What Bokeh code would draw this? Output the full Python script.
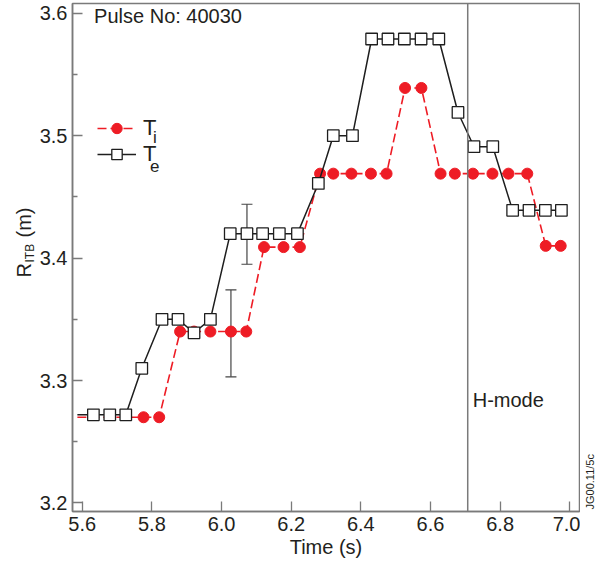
from math import pi
from bokeh.plotting import figure
from bokeh.layouts import row
from bokeh.models import (Range1d, Label, Span, Whisker, TeeHead, ColumnDataSource,
                          Legend, LegendItem, FixedTicker)
from bokeh.embed import file_html
from bokeh.resources import INLINE

# ---------------- data ----------------
lead_time = 5.586          # both traces start here (no marker)

te_time = [5.632, 5.679, 5.725, 5.771, 5.829, 5.875, 5.921, 5.968, 6.025, 6.073,
           6.118, 6.166, 6.218, 6.278, 6.321, 6.376, 6.431, 6.478, 6.525, 6.573,
           6.624, 6.679, 6.725, 6.779, 6.836, 6.883, 6.930, 6.976]
te_r = [3.272, 3.272, 3.272, 3.310, 3.350, 3.350, 3.339, 3.350, 3.420, 3.420,
        3.420, 3.420, 3.420, 3.461, 3.500, 3.500, 3.579, 3.579, 3.579, 3.579,
        3.579, 3.519, 3.491, 3.491, 3.439, 3.439, 3.439, 3.439]

ti_time = [5.776, 5.821, 5.881, 5.921, 5.968, 6.027, 6.071, 6.122, 6.178, 6.225,
           6.283, 6.321, 6.373, 6.429, 6.474, 6.527, 6.574, 6.629, 6.670, 6.722,
           6.778, 6.824, 6.878, 6.931, 6.974]
ti_r = [3.270, 3.270, 3.340, 3.340, 3.340, 3.340, 3.340, 3.409, 3.409, 3.409,
        3.469, 3.469, 3.469, 3.469, 3.469, 3.539, 3.539, 3.469, 3.469, 3.469,
        3.469, 3.469, 3.469, 3.410, 3.410]

err_time = [6.027, 6.073]
err_lower = [3.303, 3.395]
err_upper = [3.374, 3.444]

hmode_time = 6.707

x_ticks = [5.6, 5.8, 6.0, 6.2, 6.4, 6.6, 6.8, 7.0]
x_tick_labels = ["5.6", "5.8", "6.0", "6.2", "6.4", "6.6", "6.8", "7.0"]
y_ticks = [3.2, 3.3, 3.4, 3.5, 3.6]
y_tick_labels = ["3.2", "3.3", "3.4", "3.5", "3.6"]
y_minor = [3.25, 3.35, 3.45, 3.55]

# ---------------- styles ----------------
FONT = "Liberation Sans"
RED = "#ee1c25"
BLACK = "#1e1e1e"
GRAY = "#7a7a7a"
TXT = "#231f20"
H = 564
TOP, BOTTOM = 3, 53
FRAME_BOTTOM = H - BOTTOM          # 511 px from the top
LEFT_W = 36
RIGHT_W = 15

p = figure(width=595 - LEFT_W - RIGHT_W, height=H,
           x_range=Range1d(5.572, 7.028), y_range=Range1d(3.193, 3.608),
           output_backend="svg", toolbar_location=None,
           min_border_left=72 - LEFT_W, min_border_right=1,
           min_border_top=TOP, min_border_bottom=BOTTOM)
p.grid.visible = False
p.outline_line_color = GRAY
p.outline_line_width = 1.5

# axes
p.xaxis.ticker = FixedTicker(ticks=x_ticks)
p.xaxis.major_label_overrides = dict(zip(x_ticks, x_tick_labels))
p.yaxis.ticker = FixedTicker(ticks=y_ticks, minor_ticks=y_minor)
p.yaxis.major_label_overrides = dict(zip(y_ticks, y_tick_labels))
for ax in (p.xaxis, p.yaxis):
    ax.axis_line_color = GRAY
    ax.axis_line_width = 1.5
    ax.major_tick_line_color = GRAY
    ax.major_tick_line_width = 1.3
    ax.major_tick_in = 10
    ax.major_tick_out = 0
    ax.minor_tick_line_color = GRAY
    ax.minor_tick_line_width = 1.3
    ax.minor_tick_in = 5
    ax.minor_tick_out = 0
    ax.major_label_text_font = FONT
    ax.major_label_text_font_size = "20px"
    ax.major_label_text_color = TXT
    ax.major_label_standoff = 5
p.xaxis.minor_tick_line_color = None
p.xaxis.axis_label = "Time (s)"
p.xaxis.axis_label_text_font = FONT
p.xaxis.axis_label_text_font_size = "20px"
p.xaxis.axis_label_text_font_style = "normal"
p.xaxis.axis_label_text_color = TXT
p.xaxis.axis_label_standoff = 2

# H-mode boundary
p.add_layout(Span(location=hmode_time, dimension="height",
                  line_color=GRAY, line_width=1.5))

# error bars (under the markers)
err_src = ColumnDataSource(dict(t=err_time, lo=err_lower, hi=err_upper))
wh = Whisker(base="t", lower="lo", upper="hi", source=err_src,
             line_color="#444444", line_width=1.2, level="underlay",
             lower_head=TeeHead(size=11, line_color="#444444", line_width=1.2),
             upper_head=TeeHead(size=11, line_color="#444444", line_width=1.2))
p.add_layout(wh)

# Ti (red dashed, filled circles)
ti_line = p.line([lead_time] + ti_time, [ti_r[0]] + ti_r,
                 line_color=RED, line_width=1.6, line_dash="9 4")
ti_pts = p.scatter(ti_time, ti_r, marker="circle", size=11,
                   fill_color=RED, line_color=RED)

# Te (black solid, open squares)
te_line = p.line([lead_time] + te_time, [te_r[0]] + te_r,
                 line_color=BLACK, line_width=1.5)
te_pts = p.scatter(te_time, te_r, marker="square", size=11.5,
                   fill_color="white", line_color=BLACK, line_width=1.3)

# legend (location = bottom-left corner, frame-relative pixels)
legend = Legend(items=[LegendItem(label="T", renderers=[ti_line, ti_pts]),
                       LegendItem(label="T", renderers=[te_line, te_pts])],
                location=(25, 344), padding=0, margin=0,
                border_line_color=None, background_fill_alpha=0,
                glyph_width=39, glyph_height=26, label_height=26,
                label_standoff=7, spacing=0,
                label_text_font=FONT, label_text_font_size="22px",
                label_text_color=TXT)
p.add_layout(legend)

def lab(fig, text, x, y, size, angle=0.0, units="screen", baseline="bottom"):
    fig.add_layout(Label(x=x, y=y, x_units=units, y_units=units, text=text,
                         text_font=FONT, text_font_size=size, text_color=TXT,
                         text_baseline=baseline, angle=angle))

lab(p, "i", 80.5, 374, "17px", baseline="alphabetic")
lab(p, "e", 77.5, 346, "17px", baseline="alphabetic")
lab(p, "Pulse No: 40030", 21.6, 485, "20px")
p.add_layout(Label(x=hmode_time, x_units="data", x_offset=5, y=101, y_units="screen",
                   text="H-mode", text_font=FONT, text_font_size="20px",
                   text_color=TXT))

# ---- side strips share the main frame's vertical extent ----
def strip(width):
    f = figure(width=width, height=H, x_range=Range1d(0, width),
               y_range=Range1d(0, H - TOP - BOTTOM),
               output_backend="svg", toolbar_location=None,
               x_axis_type=None, y_axis_type=None,
               min_border_left=0, min_border_right=0,
               min_border_top=TOP, min_border_bottom=BOTTOM)
    f.grid.visible = False
    f.outline_line_color = None
    return f

# y-axis title R_ITB (m), rotated; y given as pixels from the top of the page
left = strip(LEFT_W)
lab(left, "R", 23.5, FRAME_BOTTOM - 277, "20px", angle=pi / 2, units="data",
    baseline="alphabetic")
lab(left, "ITB", 29.5, FRAME_BOTTOM - 262, "12px", angle=pi / 2, units="data",
    baseline="alphabetic")
lab(left, "(m)", 23.5, FRAME_BOTTOM - 237, "20px", angle=pi / 2, units="data",
    baseline="alphabetic")

# figure code at the right edge
right = strip(RIGHT_W)
lab(right, "JG00.11/5c", 9, FRAME_BOTTOM - 509, "11px", angle=pi / 2, units="data",
    baseline="alphabetic")

layout = row(left, p, right, spacing=0)
open("out.html", "w").write(file_html(layout, INLINE))
